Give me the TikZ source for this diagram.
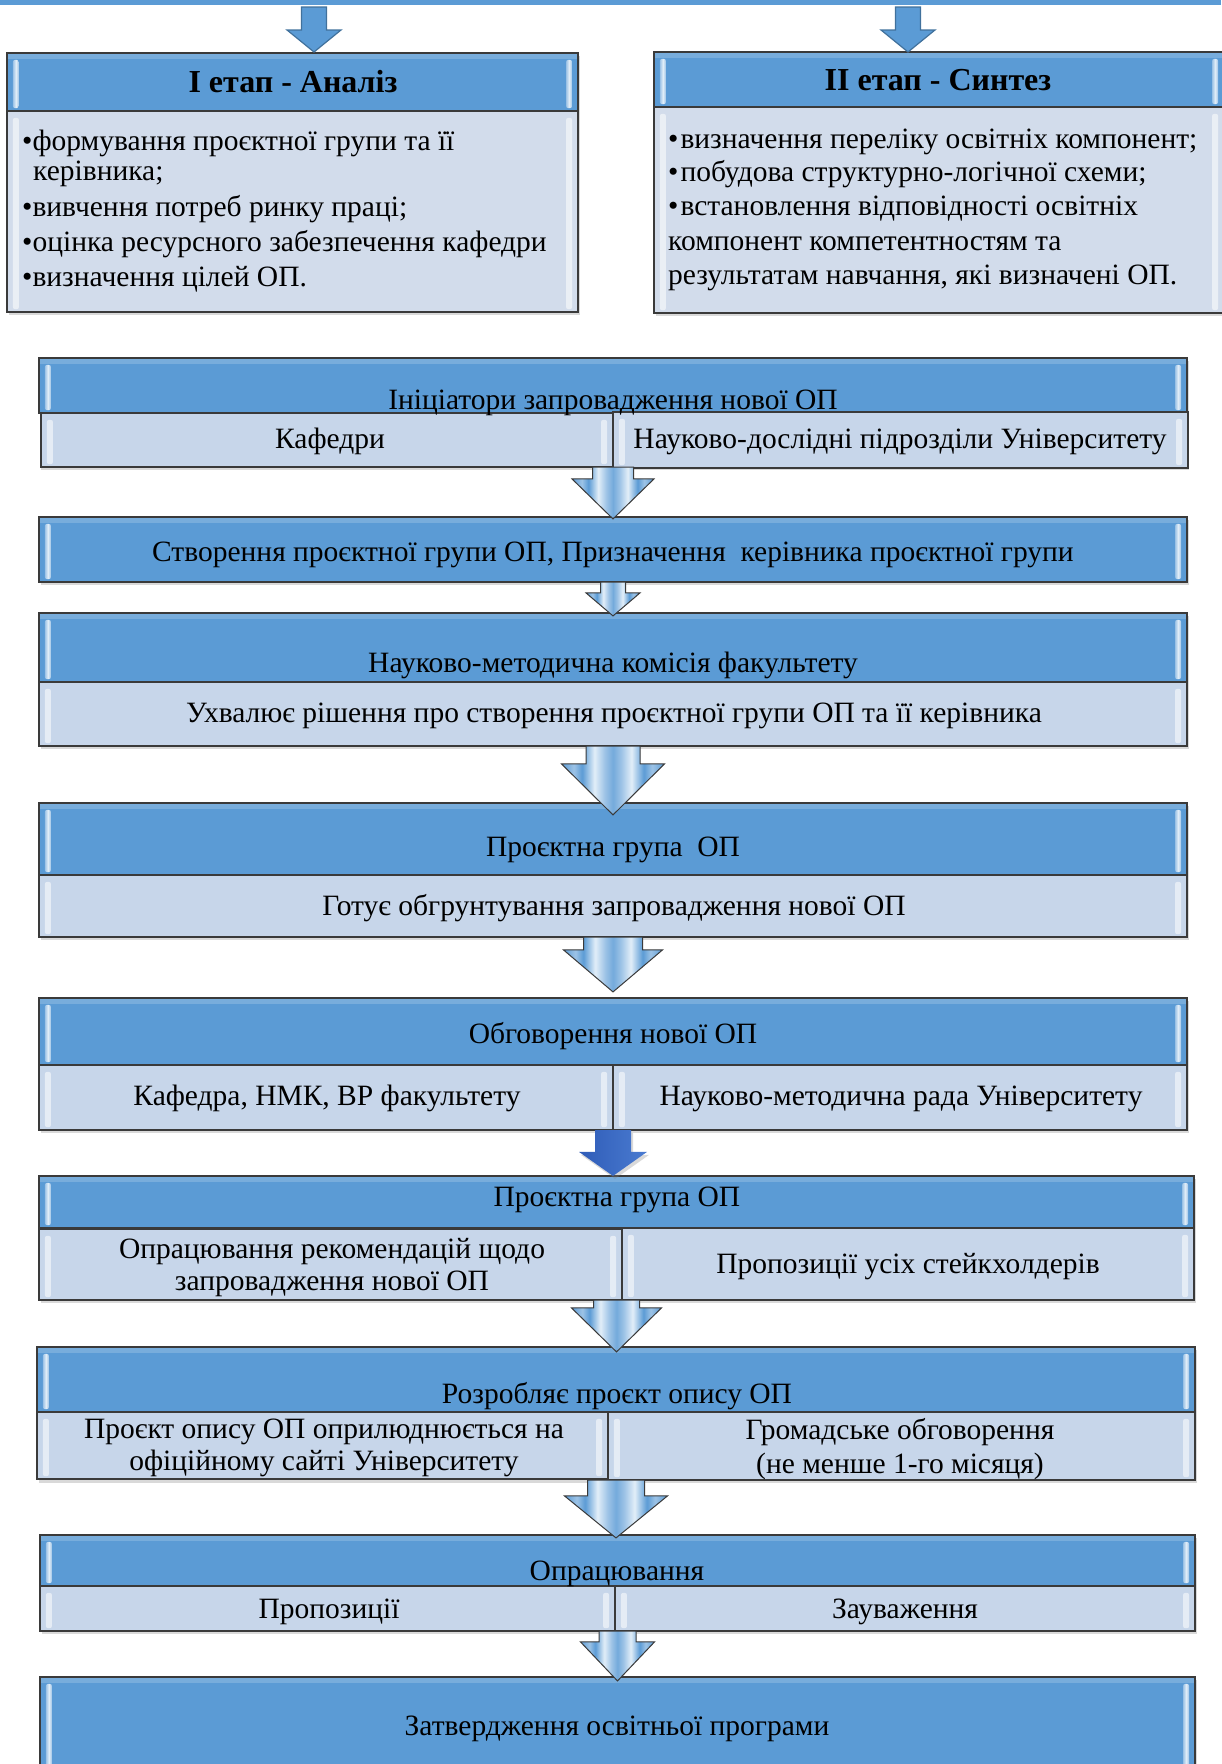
\documentclass[tikz,border=0pt]{standalone}
\usepackage{fontspec}
\setmainfont{Liberation Serif}
\usetikzlibrary{calc,fit,shadows}

\definecolor{hblue}{HTML}{5B9BD5}
\definecolor{subfill}{HTML}{C7D6EA}
\definecolor{bodyfill}{HTML}{D2DCEB}
\definecolor{edge}{HTML}{3A3A3A}
\definecolor{ab}{HTML}{5B9BD5}
\definecolor{al}{HTML}{9DC3E6}
\definecolor{aw}{HTML}{E2EEF8}
\definecolor{darkA}{HTML}{2F5CB8}
\definecolor{darkB}{HTML}{4A7BD0}
\definecolor{tarrowedge}{HTML}{41719C}

\pgfdeclarehorizontalshading{arrowsh}{100bp}{color(0bp)=(ab); color(25bp)=(ab); color(31bp)=(al); color(35bp)=(ab); color(41bp)=(aw); color(46bp)=(al); color(50bp)=(ab!85!white); color(54bp)=(al); color(59bp)=(aw); color(65bp)=(ab); color(69bp)=(al); color(75bp)=(ab); color(100bp)=(ab)}
\pgfdeclarehorizontalshading{stripsh}{100bp}{color(0bp)=(al); color(25bp)=(al); color(50bp)=(aw); color(75bp)=(al); color(100bp)=(al)}

\tikzset{
 boxshadow/.style={fill=white, inner sep=0pt, drop shadow={opacity=0.3, shadow xshift=2pt, shadow yshift=-3pt}},
 hdr/.style={draw=edge, line width=2.2pt, fill=hblue, inner sep=0pt},
 subbox/.style={draw=edge, line width=2.2pt, fill=subfill, inner sep=0pt},
 bodybox/.style={draw=edge, line width=2.2pt, fill=bodyfill, inner sep=0pt},
 txt/.style={font=\fontsize{29.5}{34}\selectfont, inner sep=0pt, anchor=mid, yshift=-6pt},
 ltxt/.style={txt, anchor=mid west},
 ttl/.style={font=\fontsize{32}{37}\selectfont\bfseries, inner sep=0pt, anchor=mid, yshift=-8pt},
 hstrip/.style={shade, shading=stripsh, rounded corners=2pt},
 sstrip/.style={fill=white, opacity=0.55, rounded corners=2pt},
 hband/.style={fill=white, opacity=0.18},
 flowarrow/.style={shade, shading=arrowsh, draw=edge, line width=1pt, line join=miter},
 toparrow/.style={fill=ab, draw=tarrowedge, line width=1.2pt},
 darkarrow/.style={left color=darkA, right color=darkB, drop shadow={opacity=0.3, shadow xshift=2pt, shadow yshift=-3pt}},
}

% #1 style, #2 start, #3 tip, #4 shaft half width, #5 head half width, #6 head length
\newcommand\blockarrow[6][]{%
 \path[#1] let \p1=(#2), \p2=(#3) in
 (\x1-#4pt,\y1) -- (\x1+#4pt,\y1) -- (\x1+#4pt,\y2+#6pt) -- (\x1+#5pt,\y2+#6pt)
 -- (\x1,\y2) -- (\x1-#5pt,\y2+#6pt) -- (\x1-#4pt,\y2+#6pt) -- cycle;}

\newcommand\strips[2]{%
 \path[#2] ($(#1.north west)+(7,8)$) rectangle ($(#1.south west)+(13,-4)$);
 \path[#2] ($(#1.north east)+(-13,8)$) rectangle ($(#1.south east)+(-7,-4)$);}
\newcommand\topband[1]{%
 \path[hband] ($(#1.north west)+(2,2)$) rectangle ($(#1.north east)+(-2,7)$);}

\begin{document}
\begin{tikzpicture}[x=1pt,y=-1pt]
\useasboundingbox (0,0) rectangle (1221,1764);
\fill[hblue] (0,0) rectangle (1221,5);

% ---------- Stage I ----------
\node[boxshadow, fit={(7,53) (578,312)}] (s1) {};
\node[hdr, fit={(7,53) (578,111)}] (s1h) {};
\node[bodybox, fit={(7,111) (578,312)}] (s1b) {};
\topband{s1h}
\strips{s1h}{hstrip}
\strips{s1b}{sstrip}
\node[ttl] (s1t) at (293,82) {I етап - Аналіз};
\node[ltxt] (s1l1) at (22,142) {•формування проєктної групи та її};
\node[ltxt] (s1l2) at (33,172) {керівника;};
\node[ltxt] (s1l3) at (22,208) {•вивчення потреб ринку праці;};
\node[ltxt] (s1l4) at (22,243) {•оцінка ресурсного забезпечення кафедри};
\node[ltxt] (s1l5) at (22,278) {•визначення цілей ОП.};

% ---------- Stage II ----------
\node[boxshadow, fit={(654,52) (1224,313)}] (s2) {};
\node[hdr, fit={(654,52) (1224,107)}] (s2h) {};
\node[bodybox, fit={(654,107) (1224,313)}] (s2b) {};
\topband{s2h}
\strips{s2h}{hstrip}
\strips{s2b}{sstrip}
\node[ttl] (s2t) at (938,80) {II етап - Синтез};
\node[ltxt] (s2l1) at (668,140) {•\kern2pt визначення переліку освітніх компонент;};
\node[ltxt] (s2l2) at (668,173) {•\kern2pt побудова структурно-логічної схеми;};
\node[ltxt] (s2l3) at (668,207) {•\kern2pt встановлення відповідності освітніх};
\node[ltxt] (s2l4) at (668,242) {компонент компетентностям та};
\node[ltxt] (s2l5) at (668,276) {результатам навчання, які визначені ОП.};

% top arrows
\coordinate (ta1s) at (314,7);
\coordinate (ta1e) at (314,52);
\coordinate (ta2s) at (908,7);
\coordinate (ta2e) at (908,52);
\blockarrow[toparrow]{ta1s}{ta1e}{12.5}{27}{22}
\blockarrow[toparrow]{ta2s}{ta2e}{12.5}{27}{22}

% ---------- Box 3 ----------
\node[boxshadow, fit={(39,358) (1187,467)}] (b3) {};
\node[hdr, fit={(39,358) (1187,413)}] (h3) {};
\node[subbox, fit={(41,413) (613,467)}] (s3a) {};
\node[subbox, fit={(613,412) (1188,468)}] (s3b) {};
\topband{h3}
\strips{h3}{hstrip}
\strips{s3a}{sstrip}
\strips{s3b}{sstrip}
\node[txt] (t3) at (613,401) {Ініціатори запровадження нової ОП};
\node[txt] (t3a) at (330,440) {Кафедри};
\node[txt] (t3b) at (900,440) {Науково-дослідні підрозділи Університету};

% ---------- Box 4 ----------
\node[boxshadow, fit={(39,517) (1187,582)}] (b4) {};
\node[hdr, fit={(39,517) (1187,582)}] (h4) {};
\topband{h4}
\strips{h4}{hstrip}
\node[txt] (t4) at (613,553) {Створення проєктної групи ОП, Призначення\ \ керівника проєктної групи};

% ---------- Box 5 ----------
\node[boxshadow, fit={(39,613) (1187,746)}] (b5) {};
\node[hdr, fit={(39,613) (1187,682)}] (h5) {};
\node[subbox, fit={(39,682) (1187,746)}] (s5) {};
\topband{h5}
\strips{h5}{hstrip}
\strips{s5}{sstrip}
\node[txt] (t5) at (613,664) {Науково-методична комісія факультету};
\node[txt] (t5a) at (614,714) {Ухвалює рішення про створення проєктної групи ОП та її керівника};

% ---------- Box 6 ----------
\node[boxshadow, fit={(39,803) (1187,937)}] (b6) {};
\node[hdr, fit={(39,803) (1187,875)}] (h6) {};
\node[subbox, fit={(39,875) (1187,937)}] (s6) {};
\topband{h6}
\strips{h6}{hstrip}
\strips{s6}{sstrip}
\node[txt] (t6) at (613,848) {Проєктна група\ \ ОП};
\node[txt] (t6a) at (614,907) {Готує обгрунтування запровадження нової ОП};

% ---------- Box 7 ----------
\node[boxshadow, fit={(39,998) (1187,1130)}] (b7) {};
\node[hdr, fit={(39,998) (1187,1065)}] (h7) {};
\node[subbox, fit={(39,1065) (613,1130)}] (s7a) {};
\node[subbox, fit={(613,1065) (1187,1130)}] (s7b) {};
\topband{h7}
\strips{h7}{hstrip}
\strips{s7a}{sstrip}
\strips{s7b}{sstrip}
\node[txt] (t7) at (613,1035) {Обговорення нової ОП};
\node[txt] (t7a) at (327,1097) {Кафедра, НМК, ВР факультету};
\node[txt] (t7b) at (901,1097) {Науково-методична рада Університету};

% ---------- Box 8 ----------
\node[boxshadow, fit={(39,1176) (1194,1300)}] (b8) {};
\node[hdr, fit={(39,1176) (1194,1228)}] (h8) {};
\node[subbox, fit={(39,1229) (622,1300)}] (s8a) {};
\node[subbox, fit={(622,1228) (1194,1300)}] (s8b) {};
\topband{h8}
\strips{h8}{hstrip}
\strips{s8a}{sstrip}
\strips{s8b}{sstrip}
\node[txt] (t8) at (617,1198) {Проєктна група ОП};
\node[txt] (t8a1) at (332,1250) {Опрацювання рекомендацій щодо};
\node[txt] (t8a2) at (332,1282) {запровадження нової ОП};
\node[txt] (t8b) at (908,1265) {Пропозиції усіх стейкхолдерів};

% ---------- Box 9 ----------
\node[boxshadow, fit={(37,1347) (1195,1480)}] (b9) {};
\node[hdr, fit={(37,1347) (1195,1412)}] (h9) {};
\node[subbox, fit={(37,1412) (608,1479)}] (s9a) {};
\node[subbox, fit={(608,1412) (1195,1480)}] (s9b) {};
\topband{h9}
\strips{h9}{hstrip}
\strips{s9a}{sstrip}
\strips{s9b}{sstrip}
\node[txt] (t9) at (617,1395) {Розробляє проєкт опису ОП};
\node[txt] (t9a1) at (324,1430) {Проєкт опису ОП оприлюднюється на};
\node[txt] (t9a2) at (324,1462) {офіційному сайті Університету};
\node[txt] (t9b1) at (900,1431) {Громадське обговорення};
\node[txt] (t9b2) at (900,1465) {(не менше 1-го місяця)};

% ---------- Box 10 ----------
\node[boxshadow, fit={(40,1535) (1195,1631)}] (b10) {};
\node[hdr, fit={(40,1535) (1195,1586)}] (h10) {};
\node[subbox, fit={(40,1586) (615,1631)}] (s10a) {};
\node[subbox, fit={(615,1586) (1195,1631)}] (s10b) {};
\topband{h10}
\strips{h10}{hstrip}
\strips{s10a}{sstrip}
\strips{s10b}{sstrip}
\node[txt] (t10) at (617,1572) {Опрацювання};
\node[txt] (t10a) at (329,1610) {Пропозиції};
\node[txt] (t10b) at (905,1610) {Зауваження};

% ---------- Box 11 ----------
\node[boxshadow, fit={(40,1677) (1195,1790)}] (b11) {};
\node[hdr, fit={(40,1677) (1195,1790)}] (h11) {};
\topband{h11}
\strips{h11}{hstrip}
\node[txt] (t11) at (617,1727) {Затвердження освітньої програми};

% ---------- arrows ----------
\blockarrow[flowarrow]{b3.south}{$(h4.north)+(0,3)$}{20.5}{41}{40}
\blockarrow[flowarrow]{b4.south}{$(h5.north)+(0,4)$}{12.5}{27}{23}
\blockarrow[flowarrow]{b5.south}{$(h6.north)+(0,13)$}{27}{51.5}{51}
\blockarrow[flowarrow]{b6.south}{$(h7.north)+(0,-5)$}{29.5}{49.5}{42}
\blockarrow[darkarrow]{b7.south}{$(h8.north)+(0,1)$}{18}{34}{24}
\blockarrow[flowarrow]{b8.south}{$(h9.north)+(0,6)$}{23}{45}{44}
\blockarrow[flowarrow]{b9.south}{$(h10.north)+(0,4)$}{28.5}{51.5}{42}
\blockarrow[flowarrow]{b10.south}{$(h11.north)+(0,5)$}{18.5}{37}{39}
\end{tikzpicture}
\end{document}
